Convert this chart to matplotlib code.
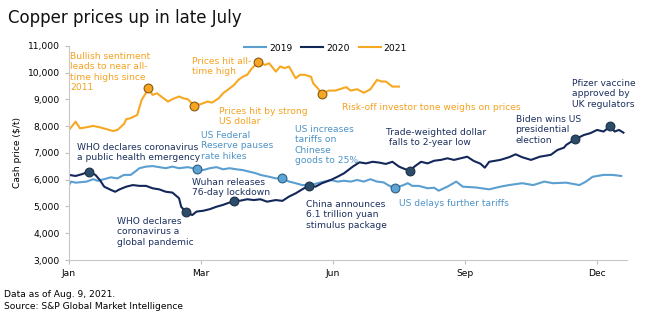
import matplotlib.pyplot as plt

# colours
c19 = '#5a9fd0'
c20 = '#13275a'
c21 = '#f7a823'
txt19 = '#4d93c6'
txt20 = '#1b2f5e'
txt21 = '#f5a11e'

# x = trading day index, y = cash price ($/t)
x19 = [0, 1, 3, 8, 11, 13, 16, 19, 22, 25, 28, 30, 32, 35, 38, 41, 44, 47, 50, 54, 58, 61, 64, 67, 70,
       73, 76, 79, 82, 85, 87, 91, 94, 97, 100, 103, 106, 110, 113, 116, 119, 122, 125, 128, 131, 134,
       137, 140, 143, 145, 148, 152, 154, 156, 159, 163, 166, 168, 172, 176, 179, 185, 191, 196, 200,
       206, 211, 216, 220, 226, 232, 235, 238, 243, 247, 251]
y19 = [5800, 5930, 5890, 5930, 6020, 5960, 6020, 6090, 6050, 6180, 6180, 6300, 6430, 6490, 6510, 6470,
       6430, 6490, 6430, 6470, 6400, 6360, 6430, 6470, 6390, 6430, 6390, 6360, 6300, 6240, 6180, 6110,
       6050, 6050, 5930, 5870, 5800, 5800, 5870, 5930, 5990, 5930, 5960, 5930, 5990, 5930, 6020, 5930,
       5900, 5800, 5680, 5800, 5870, 5770, 5770, 5680, 5700, 5590, 5740, 5930, 5740, 5710, 5640, 5740,
       5800, 5870, 5800, 5930, 5870, 5890, 5800, 5930, 6110, 6180, 6180, 6140]

x20 = [0, 3, 6, 9, 12, 14, 16, 19, 21, 23, 26, 29, 32, 35, 38, 41, 44, 47, 50, 51, 53, 56, 58, 61, 64,
       67, 70, 72, 75, 78, 81, 84, 87, 90, 94, 97, 100, 103, 106, 109, 112, 115, 119, 122, 125, 129, 132,
       135, 138, 141, 144, 147, 150, 152, 155, 157, 160, 163, 166, 169, 172, 175, 178, 181, 184, 187,
       189, 191, 196, 200, 203, 206, 210, 214, 219, 222, 225, 226, 230, 234, 237, 240, 243, 246, 248,
       250, 252]
y20 = [6180, 6140, 6210, 6300, 6180, 5990, 5740, 5620, 5550, 5640, 5740, 5800, 5770, 5770, 5680, 5640,
       5550, 5520, 5310, 4990, 4800, 4680, 4810, 4840, 4900, 4990, 5060, 5120, 5200, 5220, 5270, 5240,
       5270, 5180, 5240, 5210, 5370, 5490, 5640, 5780, 5740, 5870, 5990, 6110, 6240, 6490, 6650, 6610,
       6670, 6640, 6590, 6670, 6490, 6420, 6330, 6490, 6670, 6610, 6710, 6740, 6800, 6740, 6800, 6860,
       6700, 6600, 6450, 6670, 6740, 6840, 6950, 6840, 6740, 6860, 6930, 7110, 7200, 7300, 7510, 7670,
       7740, 7860, 7800, 8000, 7800, 7860, 7760]

x21 = [0, 3, 5, 8, 11, 14, 17, 20, 22, 25, 26, 28, 31, 33, 35, 36, 38, 40, 43, 45, 47, 50, 52, 54, 57,
       60, 63, 65, 68, 70, 72, 75, 77, 79, 81, 83, 86, 89, 91, 94, 96, 98, 100, 103, 105, 107, 110, 111,
       113, 115, 118, 121, 123, 126, 128, 131, 134, 137, 140, 142, 144, 147, 150]
y21 = [7860, 8170, 7920, 7960, 8010, 7960, 7890, 7820, 7860, 8080, 8260, 8300, 8420, 8980, 9250, 9420,
       9170, 9230, 9040, 8920, 9010, 9110, 9040, 9010, 8750, 8830, 8920, 8880, 9040, 9230, 9350, 9540,
       9730, 9850, 9920, 10150, 10400, 10290, 10350, 10040, 10230, 10170, 10230, 9790, 9920, 9920, 9850,
       9600, 9420, 9200, 9330, 9330, 9380, 9460, 9330, 9380, 9250, 9380, 9730, 9670, 9670, 9480, 9480]

# event markers
mx19 = [58, 97, 148]
my19 = [6400, 6050, 5680]
mx20 = [9, 53, 75, 109, 155, 230, 246]
my20 = [6300, 4800, 5200, 5780, 6330, 7510, 8000]
mx21 = [36, 57, 86, 115]
my21 = [9420, 8750, 10400, 9200]

# annotations: (x, y, text, colour)
notes = [
    (0.5, 10780, 'Bullish sentiment\nleads to near all-\ntime highs since\n2011', txt21),
    (56, 10590, 'Prices hit all-\ntime high', txt21),
    (68, 8720, 'Prices hit by strong\nUS dollar', txt21),
    (124, 8870, 'Risk-off investor tone weighs on prices', txt21),
    (60, 7820, 'US Federal\nReserve pauses\nrate hikes', txt19),
    (102.5, 8050, 'US increases\ntariffs on\nChinese\ngoods to 25%', txt19),
    (150, 5280, 'US delays further tariffs', txt19),
    (3.6, 7370, 'WHO declares coronavirus\na public health emergency', txt20),
    (56, 6065, 'Wuhan releases\n76-day lockdown', txt20),
    (22, 4610, 'WHO declares\ncoronavirus a\nglobal pandemic', txt20),
    (107.5, 5240, 'China announces\n6.1 trillion yuan\nstimulus package', txt20),
    (144, 7930, 'Trade-weighted dollar\n falls to 2-year low', txt20),
    (203, 8420, 'Biden wins US\npresidential\nelection', txt20),
    (228.5, 9770, 'Pfizer vaccine\napproved by\nUK regulators', txt20),
]

xtick_pos = [0, 60, 120, 180, 240]
xtick_lab = ['Jan', 'Mar', 'Jun', 'Sep', 'Dec']

plt.rcParams['font.family'] = ['DejaVu Sans']

fig = plt.figure(figsize=(6.48, 3.21), dpi=100)
ax = fig.add_axes([0.1065, 0.19, 0.861, 0.667])

ax.plot(x19, y19, color=c19, lw=1.5, label='2019')
ax.plot(x20, y20, color=c20, lw=1.5, label='2020')
ax.plot(x21, y21, color=c21, lw=1.5, label='2021')

ax.scatter(mx19, my19, s=40, color='#5ba4d4', edgecolor='#2e5f86', lw=0.8, zorder=5)
ax.scatter(mx20, my20, s=40, color='#2c4d6a', edgecolor='#1b2f48', lw=0.8, zorder=5)
ax.scatter(mx21, my21, s=40, color='#f6a623', edgecolor='#8a5a10', lw=0.8, zorder=5)

for x, y, s, c in notes:
    ax.text(x, y, s, color=c, fontsize=6.6, va='top', ha='left', linespacing=1.2)

ax.set_xlim(0, 253.6)
ax.set_ylim(3000, 11000)
ax.set_xticks(xtick_pos)
ax.set_xticklabels(xtick_lab)
ax.set_yticks(range(3000, 11001, 1000))
ax.set_yticklabels([f'{v:,}' for v in range(3000, 11001, 1000)])
ax.tick_params(axis='both', labelsize=6.6, colors='#bfbfbf', labelcolor='black', length=3, width=0.8)
ax.set_ylabel('Cash price ($/t)', fontsize=6.6, labelpad=4)

for s in ['top', 'right']:
    ax.spines[s].set_visible(False)
for s in ['left', 'bottom']:
    ax.spines[s].set_color('#c8c8c8')
    ax.spines[s].set_linewidth(0.8)

ax.legend(loc='center', bbox_to_anchor=(0.46, 0.99), ncol=3, frameon=False, fontsize=6.6,
          handlelength=2.4, columnspacing=1.0, handletextpad=0.3)

fig.text(0.012, 0.945, 'Copper prices up in late July', fontsize=12, color='#111111', va='center')
fig.text(0.006, 0.081, 'Data as of Aug. 9, 2021.', fontsize=6.6, va='center')
fig.text(0.006, 0.044, 'Source: S&P Global Market Intelligence', fontsize=6.6, va='center')

plt.savefig('out.png', dpi=100)
